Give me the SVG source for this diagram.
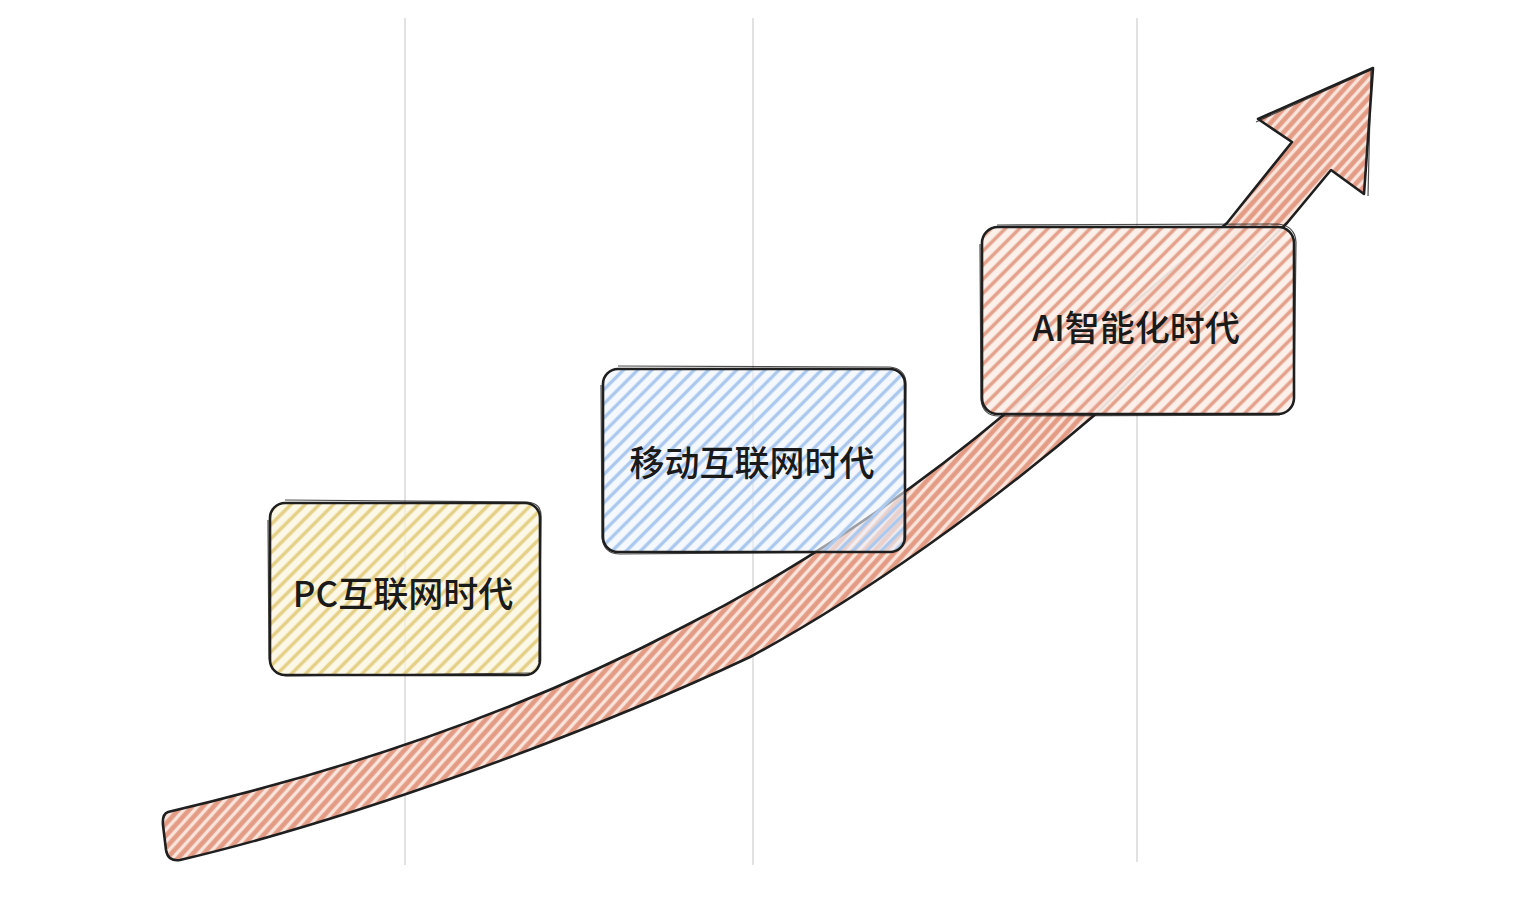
<svg xmlns="http://www.w3.org/2000/svg" width="1536" height="910" viewBox="0 0 1536 910">
<style>
.grid{stroke:#d9d9d9;stroke-width:1.5;fill:none}
.outline{stroke:#1f1f1f;stroke-width:2.6;stroke-linejoin:round}
.outline2{fill:none;stroke:#1f1f1f;stroke-width:1.2;stroke-linejoin:round;opacity:0.8}
.label{font-family:"Noto Sans CJK SC","Noto Sans",sans-serif;font-size:35px;font-weight:500;fill:#1a1a1a;text-anchor:middle;dominant-baseline:central}
</style>
<defs>
<pattern id="hArrow" patternUnits="userSpaceOnUse" width="8" height="8" patternTransform="rotate(42)">
<rect width="8" height="8" fill="#f9e4dc"/>
<line x1="2.5" y1="0" x2="2.5" y2="8" stroke="#e39b84" stroke-width="4.6"/>
</pattern>
<pattern id="hRed" patternUnits="userSpaceOnUse" width="10" height="10" patternTransform="rotate(45)">
<rect width="10" height="10" fill="#fcefea" fill-opacity="0.92"/>
<line x1="2.5" y1="0" x2="2.5" y2="10" stroke="#e4a28c" stroke-width="3.6"/>
</pattern>
<pattern id="hYellow" patternUnits="userSpaceOnUse" width="10" height="10" patternTransform="rotate(45)">
<rect width="10" height="10" fill="#fbf6df" fill-opacity="0.7"/>
<line x1="2.5" y1="0" x2="2.5" y2="10" stroke="#e5d088" stroke-width="3.6"/>
</pattern>
<pattern id="hBlue" patternUnits="userSpaceOnUse" width="10" height="10" patternTransform="rotate(45)">
<rect width="10" height="10" fill="#eef4fc" fill-opacity="0.6"/>
<line x1="2.5" y1="0" x2="2.5" y2="10" stroke="#abc9ee" stroke-width="3.4"/>
</pattern>
</defs>
<rect width="1536" height="910" fill="#ffffff"/>
<g id="grid">
<line class="grid" x1="405" y1="18" x2="405" y2="865"/>
<line class="grid" x1="753" y1="18" x2="753" y2="865"/>
<line class="grid" x1="1137" y1="18" x2="1137" y2="862"/>
</g>
<g id="connectors">
<path fill="url(#hArrow)" class="outline" d="M 168 812 C 335 773, 513 716, 683 627 C 793 572, 906 497, 1006 413 L 1227 223 L 1292 142 L 1258 119 L 1373 68 L 1364 194 L 1331 170 L 1287 223 L 1097 413 C 990 505, 865 595, 750 657 C 580 737, 350 820, 180 860 Q 168 862, 166 850 L 163 825 Q 162 814, 168 812 Z"/>
<path class="outline2" d="M 1256 122 L 1371 70 L 1368 196"/>
</g>
<g id="node-pc">
<rect x="270" y="503" width="270" height="172" rx="15" fill="url(#hYellow)" class="outline"/>
<path class="outline2" d="M 285 500 L 527 502 Q 542 503 541 518 L 539 662 M 268 520 L 269 658 Q 271 674 286 676 L 530 673"/>
<text class="label" x="403" y="591">PC互联网时代</text>
</g>
<g id="node-mobile">
<rect x="603" y="369" width="302" height="183" rx="15" fill="url(#hBlue)" class="outline"/>
<path class="outline2" d="M 618 366 L 890 367 Q 906 369 906 384 L 904 540 M 601 385 L 602 538 Q 604 554 620 554 L 892 552"/>
<text class="label" x="752" y="460">移动互联网时代</text>
</g>
<g id="node-ai">
<rect x="982" y="227" width="312" height="187" rx="16" fill="url(#hRed)" class="outline"/>
<path class="outline2" d="M 997 225 L 1278 224 Q 1295 226 1296 242 L 1294 400 M 980 244 L 981 400 Q 983 416 999 416 L 1280 415"/>
<text class="label" x="1136" y="325">AI智能化时代</text>
</g>
</svg>
